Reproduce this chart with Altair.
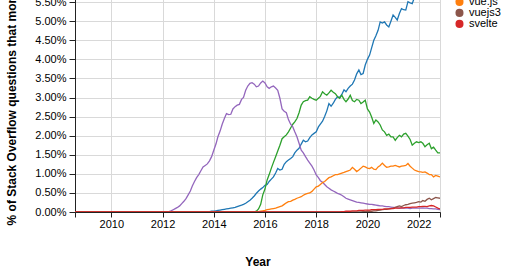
import altair as alt
import pandas as pd

# ---- data (percent of Stack Overflow questions per month) ----
tags = ["reactjs", "angular", "angularjs", "vue.js", "vuejs3", "svelte"]
colors = ["#1f77b4", "#2ca02c", "#9467bd", "#ff7f0e", "#8c564b", "#d62728"]

first_month = (2008, 8)
last_month = (2022, 11)

# each series: (start year, start month) and monthly values from then on (zeros before)
reactjs_start = (2013, 6)
reactjs = [
    0, 0, 0, 0, 0.01, 0.01, 0.02,                                    # 2013 Jun-Dec
    0.02, 0.03, 0.04, 0.05, 0.06, 0.07, 0.08, 0.09, 0.1, 0.11, 0.12, 0.14,   # 2014
    0.16, 0.18, 0.2, 0.23, 0.27, 0.31, 0.36, 0.42, 0.49, 0.55, 0.6, 0.64,    # 2015
    0.7, 0.72, 0.8, 0.86, 0.92, 1.02, 1.14, 1.1, 1.12, 1.25, 1.32, 1.36,     # 2016
    1.4, 1.45, 1.55, 1.62, 1.67, 1.78, 1.88, 1.84, 1.86, 1.95, 2.02, 2.06,   # 2017
    2.1, 2.23, 2.3, 2.38, 2.5, 2.65, 2.84, 2.77, 2.85, 2.95, 3.02, 3.0,      # 2018
    3.08, 3.2, 3.15, 3.24, 3.3, 3.35, 3.46, 3.62, 3.72, 3.6, 3.63, 3.85,     # 2019
    4.0, 4.11, 4.3, 4.5, 4.62, 4.76, 4.98, 4.95, 4.98, 4.9, 4.85, 5.0,       # 2020
    5.16, 5.1, 5.03, 5.2, 5.33, 5.3, 5.29, 5.51, 5.48, 5.46, 5.62, 5.7,      # 2021
    5.75, 5.68, 5.82, 5.9, 5.85, 5.95, 6.0, 5.92, 6.05, 6.1, 6.0,            # 2022 Jan-Nov
]

angular_start = (2015, 6)
angular = [
    0.01, 0.01, 0.01, 0.02, 0.08, 0.2, 0.45,                                 # 2015 Jun-Dec
    0.6, 0.84, 0.98, 1.15, 1.3, 1.45, 1.6, 1.75, 1.92, 1.97, 2.02, 2.1,      # 2016
    2.2, 2.3, 2.36, 2.45, 2.6, 2.8, 2.89, 2.92, 2.93, 3.02, 2.98, 2.95,      # 2017
    2.93, 2.98, 3.03, 3.15, 3.1, 3.06, 3.12, 3.19, 3.14, 3.1, 3.02, 2.98,    # 2018
    3.06, 2.95, 2.89, 2.96, 3.06, 2.92, 2.89, 2.95, 2.93, 2.84, 2.88, 2.93,  # 2019
    2.7, 2.62, 2.49, 2.32, 2.41, 2.36, 2.28, 2.15, 2.1, 2.01, 2.04, 1.97,    # 2020
    1.97, 1.88, 1.95, 2.01, 1.97, 2.04, 2.06, 1.99, 1.9, 1.75, 1.8, 1.84,    # 2021
    1.82, 1.84, 1.8, 1.71, 1.76, 1.8, 1.66, 1.7, 1.62, 1.55, 1.55,           # 2022
]

angularjs_start = (2012, 1)
angularjs = [
    0, 0, 0, 0.01, 0.03, 0.06, 0.09, 0.12, 0.16, 0.22, 0.28, 0.35,           # 2012
    0.45, 0.55, 0.68, 0.8, 0.9, 0.98, 1.08, 1.18, 1.22, 1.26, 1.34, 1.45,    # 2013
    1.62, 1.78, 1.97, 2.12, 2.3, 2.45, 2.58, 2.55, 2.56, 2.7, 2.76, 2.8,     # 2014
    2.82, 2.95, 3.0, 3.19, 3.3, 3.37, 3.39, 3.35, 3.28, 3.3, 3.38, 3.43,     # 2015
    3.38, 3.28, 3.24, 3.28, 3.3, 3.25, 3.19, 2.98, 2.7, 2.64, 2.6, 2.42,     # 2016
    2.3, 2.23, 2.1, 1.97, 1.8, 1.62, 1.55, 1.45, 1.36, 1.28, 1.2, 1.1,       # 2017
    0.97, 0.9, 0.82, 0.78, 0.72, 0.66, 0.62, 0.58, 0.55, 0.52, 0.49, 0.47,   # 2018
    0.44, 0.4, 0.36, 0.34, 0.32, 0.3, 0.28, 0.26, 0.25, 0.24, 0.23, 0.22,    # 2019
    0.21, 0.2, 0.2, 0.19, 0.18, 0.17, 0.16, 0.16, 0.15, 0.14, 0.14, 0.13,    # 2020
    0.12, 0.12, 0.11, 0.1, 0.11, 0.1, 0.1, 0.1, 0.09, 0.1, 0.1, 0.1,         # 2021
    0.1, 0.1, 0.11, 0.1, 0.1, 0.09, 0.09, 0.08, 0.08, 0.07, 0.06,            # 2022
]

vuejs_start = (2015, 9)
vuejs = [
    0.0, 0.01, 0.02, 0.03,                                                   # 2015 Sep-Dec
    0.04, 0.06, 0.07, 0.08, 0.09, 0.1, 0.12, 0.14, 0.16, 0.2, 0.24, 0.27,    # 2016
    0.28, 0.31, 0.33, 0.36, 0.38, 0.4, 0.44, 0.47, 0.49, 0.5, 0.54, 0.6,     # 2017
    0.66, 0.68, 0.72, 0.77, 0.8, 0.85, 0.9, 0.92, 0.95, 0.98, 0.98, 1.0,     # 2018
    1.02, 1.04, 1.06, 1.08, 1.1, 1.17, 1.12, 1.06, 1.1, 1.15, 1.2, 1.18,     # 2019
    1.15, 1.14, 1.17, 1.12, 1.11, 1.18, 1.22, 1.28, 1.22, 1.17, 1.18, 1.2,   # 2020
    1.2, 1.22, 1.2, 1.18, 1.2, 1.21, 1.22, 1.27, 1.2, 1.15, 1.1, 1.08,       # 2021
    1.06, 1.05, 1.04, 1.05, 1.02, 0.98, 0.98, 0.92, 0.96, 0.94, 0.92,        # 2022
]

vuejs3_start = (2019, 10)
vuejs3 = [
    0.0, 0.01, 0.01,                                                         # 2019 Oct-Dec
    0.02, 0.02, 0.02, 0.03, 0.03, 0.04, 0.05, 0.06, 0.07, 0.07, 0.08, 0.09,  # 2020
    0.1, 0.12, 0.14, 0.16, 0.14, 0.17, 0.19, 0.2, 0.22, 0.23, 0.24, 0.25,    # 2021
    0.27, 0.26, 0.3, 0.28, 0.33, 0.36, 0.32, 0.35, 0.38, 0.37, 0.36,         # 2022
]

svelte_start = (2019, 1)
svelte = [
    0.01, 0.01, 0.02, 0.02, 0.02, 0.03, 0.03, 0.03, 0.04, 0.04, 0.04, 0.05,  # 2019
    0.05, 0.05, 0.06, 0.06, 0.06, 0.07, 0.07, 0.07, 0.08, 0.08, 0.08, 0.09,  # 2020
    0.09, 0.1, 0.1, 0.1, 0.11, 0.11, 0.12, 0.12, 0.12, 0.13, 0.13, 0.13,     # 2021
    0.14, 0.14, 0.15, 0.15, 0.14, 0.16, 0.17, 0.16, 0.13, 0.1, 0.08,         # 2022
]

series = {
    "reactjs": (reactjs_start, reactjs),
    "angular": (angular_start, angular),
    "angularjs": (angularjs_start, angularjs),
    "vue.js": (vuejs_start, vuejs),
    "vuejs3": (vuejs3_start, vuejs3),
    "svelte": (svelte_start, svelte),
}

# ---- build long table ----
def month_index(ym):
    return ym[0] * 12 + (ym[1] - 1)

i0 = month_index(first_month)
i1 = month_index(last_month)
rows = []
for tag in tags:
    start, vals = series[tag]
    s = month_index(start)
    for i in range(i0, i1 + 1):
        k = i - s
        v = vals[k] if 0 <= k < len(vals) else 0.0
        y, m = divmod(i, 12)
        rows.append({"date": f"{y:04d}-{m + 1:02d}-01T00:00:00", "tag": tag, "value": v / 100.0})
df = pd.DataFrame(rows)

year_ticks = [alt.DateTime(year=2008, month=8, date=1)] + \
    [alt.DateTime(year=y, month=1, date=1) for y in range(2010, 2023, 2)] + \
    [alt.DateTime(year=2022, month=11, date=1)]
y_ticks = [i * 0.005 for i in range(0, 13)]

FONT = "Liberation Sans"

base = alt.Chart(df).encode(
    x=alt.X(
        "date:T",
        title="Year",
        scale=alt.Scale(domain=[alt.DateTime(year=2008, month=8, date=1),
                                alt.DateTime(year=2022, month=11, date=1)]),
        axis=alt.Axis(
            values=year_ticks,
            labelExpr="month(datum.value) == 0 ? timeFormat(datum.value, '%Y') : ''",
            titlePadding=27,
            labelPadding=1,
        ),
    ),
    y=alt.Y(
        "value:Q",
        title="% of Stack Overflow questions that month",
        scale=alt.Scale(domain=[0, 0.06], nice=False),
        axis=alt.Axis(values=y_ticks, format=".2%", titleY=121.6, titlePadding=16,
                      tickSize=6, labelPadding=3),
    ),
    color=alt.Color(
        "tag:N",
        scale=alt.Scale(domain=tags, range=colors),
        legend=alt.Legend(
            title=None,
            orient="none",
            legendX=379,
            legendY=-19.6,
            symbolType="circle",
            symbolSize=65,
            symbolStrokeWidth=0,
            labelFontSize=11,
            labelColor="black",
            rowPadding=-1.4,
        ),
    ),
)

points = base.mark_point(filled=True, size=0, opacity=1)
lines = base.mark_line(strokeWidth=1.3, clip=True)

chart = alt.layer(points, lines).properties(
    width=365,
    height=229,
    padding={"left": 75, "top": -17, "right": 80, "bottom": 60},
    autosize=alt.AutoSizeParams(type="none"),
).configure(
    font=FONT,
).configure_axis(
    labelFontSize=11,
    labelColor="black",
    titleFontSize=12,
    titleFontWeight="bold",
    titleColor="black",
    domainColor="#222",
    tickColor="#222",
    gridColor="#d9d9d9",
).configure_view(
    stroke="#222",
)

chart.save("out.html", embed_options={"renderer": "svg", "actions": False})
